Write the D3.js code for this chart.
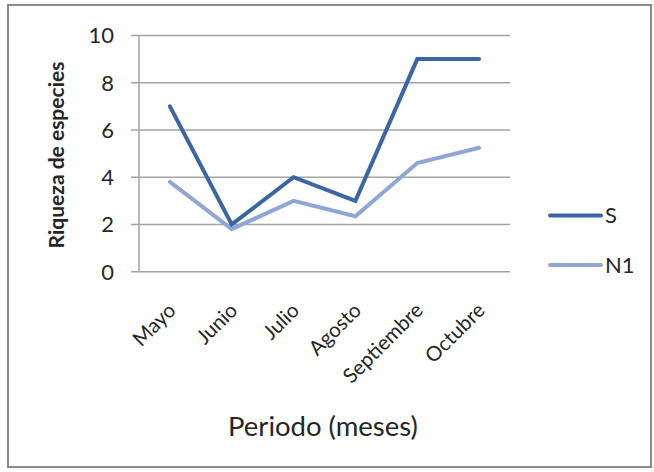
<!DOCTYPE html>
<html><head><meta charset="utf-8">
<script src="https://cdn.jsdelivr.net/npm/d3@7"></script>
<style>body{margin:0;background:#fff}svg{display:block}</style>
</head><body><svg id="c" width="654" height="472"></svg>
<script>
const categories = ["Mayo","Junio","Julio","Agosto","Septiembre","Octubre"];
const sValues = [7, 2, 4, 3, 9, 9];
const n1Values = [3.8, 1.8, 3.0, 2.35, 4.6, 5.25];
const yTicks = [0, 2, 4, 6, 8, 10];
const seriesNames = ["S", "N1"];
const seriesColors = ["#3b66a6", "#8ea7d6"];

const svg = d3.select("#c");
const font = "Lato, 'Open Sans', sans-serif";
const ink = "#262626";
// frame
svg.append("rect").attr("x",8).attr("y",5).attr("width",643).attr("height",462)
  .attr("fill","#fff").attr("stroke","#8a8a8a").attr("stroke-width",2);

const L = 139, R = 510, T = 35.5, B = 271.7;
const x = d3.scaleBand().domain(categories).range([L, R]);
const y = d3.scaleLinear().domain([0, 10]).range([B, T]);

// gridlines
svg.append("g").selectAll("line").data(yTicks).join("line")
  .attr("x1", 131).attr("x2", R).attr("y1", d => y(d)).attr("y2", d => y(d))
  .attr("stroke", "#a3a3a3").attr("stroke-width", 1.5);
// y axis line
svg.append("line").attr("x1", L).attr("x2", L).attr("y1", T).attr("y2", B)
  .attr("stroke", "#a3a3a3").attr("stroke-width", 1.5);

// y tick labels
svg.append("g").selectAll("text").data(yTicks).join("text")
  .attr("x", 114).attr("y", d => y(d)).attr("dy", "0.36em")
  .attr("text-anchor", "end").attr("font-family", font).attr("font-size", 22)
  .attr("fill", ink).text(d => d);

// x labels
svg.append("g").selectAll("text").data(categories).join("text")
  .attr("text-anchor", "end").attr("font-family", font).attr("font-size", 20.5)
  .attr("fill", ink)
  .attr("transform", d => `translate(${x(d) + x.bandwidth()/2 + 7},${B + 40}) rotate(-45)`)
  .text(d => d);

// axis titles
svg.append("text").attr("transform", `translate(64,155) rotate(-90)`)
  .attr("text-anchor", "middle").attr("font-family", font).attr("font-size", 21)
  .attr("font-weight", "bold").attr("fill", ink).text("Riqueza de especies");
svg.append("text").attr("x", 323).attr("y", 436).attr("text-anchor", "middle")
  .attr("font-family", font).attr("font-size", 27.5).attr("fill", ink).text("Periodo (meses)");

// lines
const line = d3.line().x((d, i) => x(categories[i]) + x.bandwidth()/2).y(d => y(d));
const paths = [sValues, n1Values].map((vals, k) =>
  svg.append("path").datum(vals).attr("d", line).attr("fill", "none")
    .attr("stroke", seriesColors[k]).attr("stroke-width", 4)
    .attr("stroke-linejoin", "miter").attr("stroke-linecap", "round"));
paths[0].raise();

// legend
const legY = [215.5, 265];
seriesNames.forEach((n, k) => {
  svg.append("line").attr("x1", 550).attr("x2", 601).attr("y1", legY[k]).attr("y2", legY[k])
    .attr("stroke", seriesColors[k]).attr("stroke-width", 4).attr("stroke-linecap", "round");
  svg.append("text").attr("x", 605).attr("y", legY[k]).attr("dy", "0.36em")
    .attr("font-family", font).attr("font-size", 22).attr("fill", ink).text(n);
});
</script></body></html>
